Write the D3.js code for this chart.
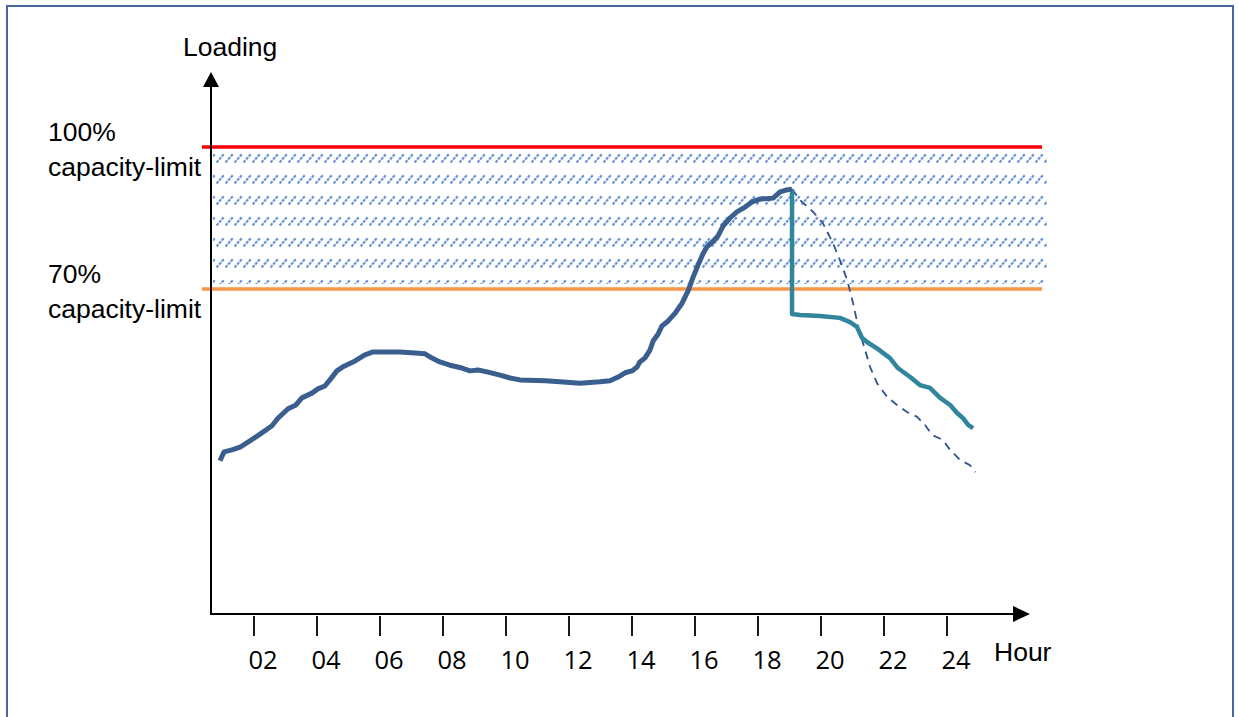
<!DOCTYPE html>
<html>
<head>
<meta charset="utf-8">
<script src="https://cdn.jsdelivr.net/npm/d3@7"></script>
<style>
    body { margin: 0; background: #fff; }
    text { font-family: "Liberation Sans", Arial, sans-serif; fill: #000; }
    .tick-label { font-family: "Open Sans", "Liberation Sans", sans-serif; }
</style>
</head>
<body>
<div id="chart"></div>
<script>
// Measured load (% of capacity) over the day
const mainHours = [0.92, 1.05, 1.3, 1.56, 1.87, 2.25, 2.57, 2.76, 3.08, 3.33, 3.52, 3.84, 4.03, 4.25, 4.41,
    4.63, 4.86, 5.21, 5.52, 5.78, 6.16, 6.63, 7.11, 7.43, 7.65, 7.9, 8.22, 8.6, 8.86, 9.11, 9.4, 9.81, 10.13,
    10.44, 11.24, 11.71, 12.35, 12.98, 13.3, 13.56, 13.78, 14.0, 14.16, 14.25, 14.41, 14.57, 14.67, 14.83,
    14.95, 15.14, 15.37, 15.59, 15.78, 15.94, 16.1, 16.25, 16.38, 16.54, 16.73, 16.89, 17.11, 17.33, 17.59,
    17.81, 18.06, 18.48, 18.7, 18.89, 19.08];
const mainLoad = [33.7, 35.6, 36.0, 36.6, 37.9, 39.6, 41.1, 42.7, 44.7, 45.5, 47.0, 48.0, 48.9, 49.5, 50.8,
    52.7, 53.7, 54.8, 56.1, 56.7, 56.7, 56.7, 56.5, 56.3, 55.4, 54.6, 53.9, 53.3, 52.7, 52.9, 52.5, 51.8, 51.2,
    50.8, 50.6, 50.4, 50.1, 50.4, 50.6, 51.4, 52.3, 52.7, 53.5, 54.6, 55.4, 57.1, 59.0, 60.5,
    62.2, 63.2, 64.9, 67.0, 69.6, 72.5, 75.1, 77.4, 78.9, 79.9, 81.2, 83.3, 85.0, 86.3, 87.3,
    88.4, 89.0, 89.2, 90.5, 90.9, 91.1];

// Load after the curtailment at 19:00
const reducedHours = [19.08, 19.08, 19.33, 19.97, 20.6, 20.92, 21.14, 21.3, 21.46, 21.81, 22.19, 22.44,
    22.83, 23.14, 23.46, 23.78, 24.1, 24.32, 24.51, 24.67, 24.83];
const reducedLoad = [91.1, 64.7, 64.5, 64.3, 63.9, 63.0, 62.0, 59.7, 58.8, 57.3, 55.4, 53.3,
    51.4, 49.7, 49.1, 47.0, 45.5, 43.8, 42.7, 41.3, 40.6];

// Load without curtailment (dashed)
const originalHours = [19.08, 19.33, 19.75, 20.06, 20.38, 20.6, 20.83, 21.02, 21.18, 21.4, 21.56, 21.78,
    22.1, 22.41, 22.73, 23.05, 23.3, 23.52, 23.87, 24.1, 24.41, 24.73, 24.89];
const originalLoad = [91.1, 88.8, 86.3, 83.9, 79.7, 76.1, 71.9, 67.0, 62.0, 57.1, 53.5, 50.1,
    47.2, 45.5, 44.0, 43.0, 41.3, 39.2, 38.1, 36.0, 33.9, 32.8, 31.3];

const tickHours = [2, 4, 6, 8, 10, 12, 14, 16, 18, 20, 22, 24];
const tickLabels = ['02', '04', '06', '08', '10', '12', '14', '16', '18', '20', '22', '24'];

const limitValues = [100, 70];
const limitLabels = ['100%', '70%'];

const width = 1238, height = 717;
const axisX = 211, axisY = 614;

const svg = d3.select('#chart').append('svg')
    .attr('width', width)
    .attr('height', height);

// Scales
const x = d3.scaleLinear().domain([2, 24]).range([254, 947]);
const y = d3.scaleLinear().domain([70, 100]).range([289, 147]);

// Outer frame
svg.append('rect')
    .attr('x', 7).attr('y', 6)
    .attr('width', 1226).attr('height', 740)
    .attr('fill', 'none')
    .attr('stroke', '#46679a')
    .attr('stroke-width', 2);

// Hatch pattern for the band between the limits
const defs = svg.append('defs');
const pat = defs.append('pattern')
    .attr('id', 'hatch')
    .attr('patternUnits', 'userSpaceOnUse')
    .attr('x', 0).attr('y', y(100) + 3)
    .attr('width', 9).attr('height', 21);
pat.append('line')
    .attr('x1', 0.5).attr('y1', 12.5)
    .attr('x2', 8).attr('y2', 4)
    .attr('stroke', '#6a96d4')
    .attr('stroke-width', 2.2)
    .attr('stroke-dasharray', '3,1');

svg.append('rect')
    .attr('x', axisX + 2)
    .attr('y', y(100) + 3)
    .attr('width', 1047 - axisX - 2)
    .attr('height', y(70) - y(100) - 8)
    .attr('fill', 'url(#hatch)');

// Limit lines
const limitColors = ['#ff0000', '#f79646'];
svg.selectAll('.limit')
    .data(limitValues)
    .join('line')
    .attr('class', 'limit')
    .attr('x1', 202).attr('x2', 1042)
    .attr('y1', d => y(d)).attr('y2', d => y(d))
    .attr('stroke', (d, i) => limitColors[i])
    .attr('stroke-width', 3.5);

// Limit labels
limitValues.forEach((v, i) => {
    const t = svg.append('text')
        .attr('font-size', 26.5);
    t.append('tspan').attr('x', 48).attr('y', y(v) - 6).text(limitLabels[i]);
    t.append('tspan').attr('x', 48).attr('y', y(v) + 29).text('capacity-limit');
});

// Axes
svg.append('line')
    .attr('x1', axisX).attr('x2', axisX)
    .attr('y1', 84).attr('y2', axisY + 1)
    .attr('stroke', '#000').attr('stroke-width', 2);
svg.append('path')
    .attr('d', `M${axisX},72 L${axisX - 8},87 L${axisX + 8},87 Z`)
    .attr('fill', '#000');

svg.append('line')
    .attr('x1', axisX).attr('x2', 1016)
    .attr('y1', axisY).attr('y2', axisY)
    .attr('stroke', '#000').attr('stroke-width', 2);
svg.append('path')
    .attr('d', `M1030,${axisY} L1013,${axisY - 8} L1013,${axisY + 8} Z`)
    .attr('fill', '#000');

// Ticks and labels
svg.selectAll('.tick')
    .data(tickHours)
    .join('line')
    .attr('class', 'tick')
    .attr('x1', d => x(d)).attr('x2', d => x(d))
    .attr('y1', axisY + 2).attr('y2', axisY + 22)
    .attr('stroke', '#000').attr('stroke-width', 1.8);

svg.selectAll('.tick-label')
    .data(tickHours)
    .join('text')
    .attr('class', 'tick-label')
    .attr('x', d => x(d) + 9)
    .attr('y', 669)
    .attr('text-anchor', 'middle')
    .attr('font-size', 25.5)
    .text((d, i) => tickLabels[i]);

svg.append('text')
    .attr('x', 183).attr('y', 56)
    .attr('font-size', 26.5)
    .text('Loading');

svg.append('text')
    .attr('x', 994).attr('y', 661)
    .attr('font-size', 26.5)
    .text('Hour');

// Series
const line = d3.line()
    .x(d => x(d[0]))
    .y(d => y(d[1]));

const zipSeries = (hs, vs) => hs.map((h, i) => [h, vs[i]]);

svg.append('path')
    .datum(zipSeries(originalHours, originalLoad))
    .attr('d', line)
    .attr('fill', 'none')
    .attr('stroke', '#2f5490')
    .attr('stroke-width', 1.8)
    .attr('stroke-dasharray', '8,6');

svg.append('path')
    .datum(zipSeries(reducedHours, reducedLoad))
    .attr('d', line)
    .attr('fill', 'none')
    .attr('stroke', '#31859c')
    .attr('stroke-width', 4.5)
    .attr('stroke-linejoin', 'round');

svg.append('path')
    .datum(zipSeries(mainHours, mainLoad))
    .attr('d', line)
    .attr('fill', 'none')
    .attr('stroke', '#3a5f8f')
    .attr('stroke-width', 5)
    .attr('stroke-linejoin', 'round');
</script>
</body>
</html>
